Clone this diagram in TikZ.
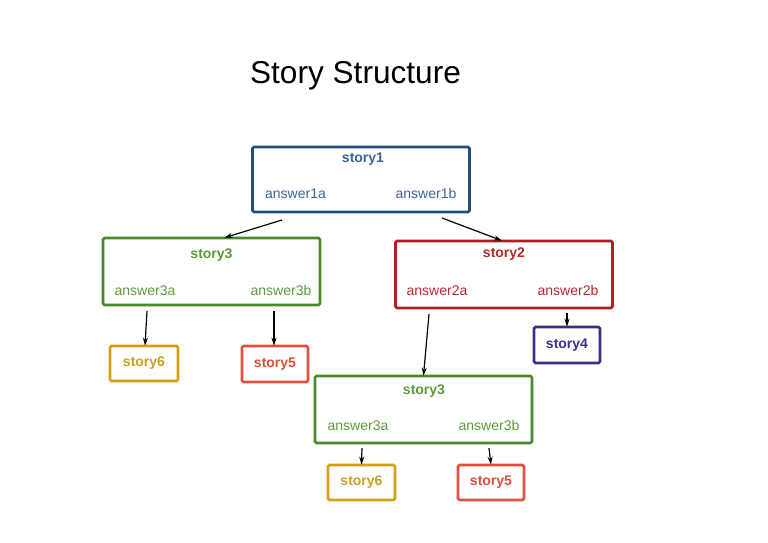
\documentclass[tikz,border=0pt]{standalone}
\usepackage{fontspec}
\setmainfont{Liberation Sans}
\usetikzlibrary{arrows.meta}
\definecolor{bluel}{HTML}{244C7E}
\definecolor{bluet}{HTML}{3A62A0}
\definecolor{greenl}{HTML}{4A8A2A}
\definecolor{greent}{HTML}{5C9A3C}
\definecolor{redl}{HTML}{AE1E22}
\definecolor{redt}{HTML}{B32A2E}
\definecolor{goldl}{HTML}{D4A012}
\definecolor{goldt}{HTML}{C99E22}
\definecolor{orangel}{HTML}{E0533A}
\definecolor{oranget}{HTML}{D8503A}
\definecolor{purplel}{HTML}{3E2B8E}
\definecolor{purplet}{HTML}{3E2F8A}
\tikzset{
  bigbox/.style={draw=#1, line width=2.7pt, rounded corners=1.5pt, minimum width=217pt, minimum height=66pt, inner sep=0pt},
  smallbox/.style={draw=#1, line width=2.6pt, rounded corners=1.5pt, minimum width=66pt, minimum height=35pt, inner sep=0pt, font=\fontsize{14}{16}\selectfont\bfseries},
  ttl/.style={text=#1, font=\fontsize{14}{16}\selectfont\bfseries, inner sep=0pt},
  ans/.style={text=#1, font=\fontsize{14}{16}\selectfont, inner sep=0pt},
  arr/.style={-{Stealth[length=8pt,width=5pt]}, line width=1.2pt, black}
}
\begin{document}
\begin{tikzpicture}[x=1pt,y=-1pt]
\useasboundingbox (0,0) rectangle (768,543);
\node[font=\fontsize{31.6}{36}\selectfont, inner sep=0pt] (title) at (355.5,75.5) {Story Structure};

% story1
\node[bigbox=bluel, minimum height=65pt] (s1) at (361,179.5) {};
\node[ttl=bluet] (s1t) at (363,159) {story1};
\node[ans=bluet] (s1a) at (295.5,193.5) {answer1a};
\node[ans=bluet] (s1b) at (426,193.5) {answer1b};

% story3 left
\node[bigbox=greenl, minimum height=67pt] (s3) at (211.5,271.5) {};
\node[ttl=greent] (s3t) at (211.5,255) {story3};
\node[ans=greent] (s3a) at (145,290.5) {answer3a};
\node[ans=greent] (s3b) at (281,290.5) {answer3b};

% story2
\node[bigbox=redl, minimum height=67pt] (s2) at (504,274.5) {};
\node[ttl=redt] (s2t) at (504,254) {story2};
\node[ans=redt] (s2a) at (437,290.5) {answer2a};
\node[ans=redt] (s2b) at (568,290.5) {answer2b};

% small boxes
\node[smallbox=goldl, minimum width=68pt, text=goldt] (s6) at (144,363.5) {story6};
\node[smallbox=orangel, minimum height=36pt, text=oranget] (s5) at (275,364) {story5};
\node[smallbox=purplel, minimum height=36pt, text=purplet] (s4) at (567,345) {story4};

% story3 bottom
\node[bigbox=greenl, minimum height=67pt] (s3b2) at (423.5,409.5) {};
\node[ttl=greent] (s3b2t) at (424,391) {story3};
\node[ans=greent] (s3b2a) at (358,425.5) {answer3a};
\node[ans=greent] (s3b2b) at (489,425.5) {answer3b};

\node[smallbox=goldl, minimum width=67pt, text=goldt] (s6b) at (361.5,482.5) {story6};
\node[smallbox=orangel, text=oranget] (s5b) at (491,482.5) {story5};

% connectors
\coordinate (c1a) at (282,220);
\coordinate (c1b) at (442,218);
\coordinate (c3a) at (147,311);
\coordinate (c3b) at (274,311);
\coordinate (c2a) at (429,314);
\coordinate (c2b) at (567,313);
\coordinate (c4a) at (362,448);
\coordinate (c4b) at (489,448);
\draw[arr] (c1a) -- ([xshift=13pt,yshift=-1pt]s3.north);
\draw[arr] (c1b) -- ([xshift=-2pt,yshift=-1pt]s2.north);
\draw[arr] (c3a) -- ([xshift=1pt,yshift=-1pt]s6.north);
\draw[arr] (c3b) -- ([xshift=-1pt,yshift=-1pt]s5.north);
\draw[arr] (c2a) -- ([yshift=-1pt]s3b2.north);
\draw[arr] (c2b) -- ([yshift=-1pt]s4.north);
\draw[arr] (c4a) -- ([yshift=-1pt]s6b.north);
\draw[arr] (c4b) -- ([yshift=-1pt]s5b.north);
\end{tikzpicture}
\end{document}
